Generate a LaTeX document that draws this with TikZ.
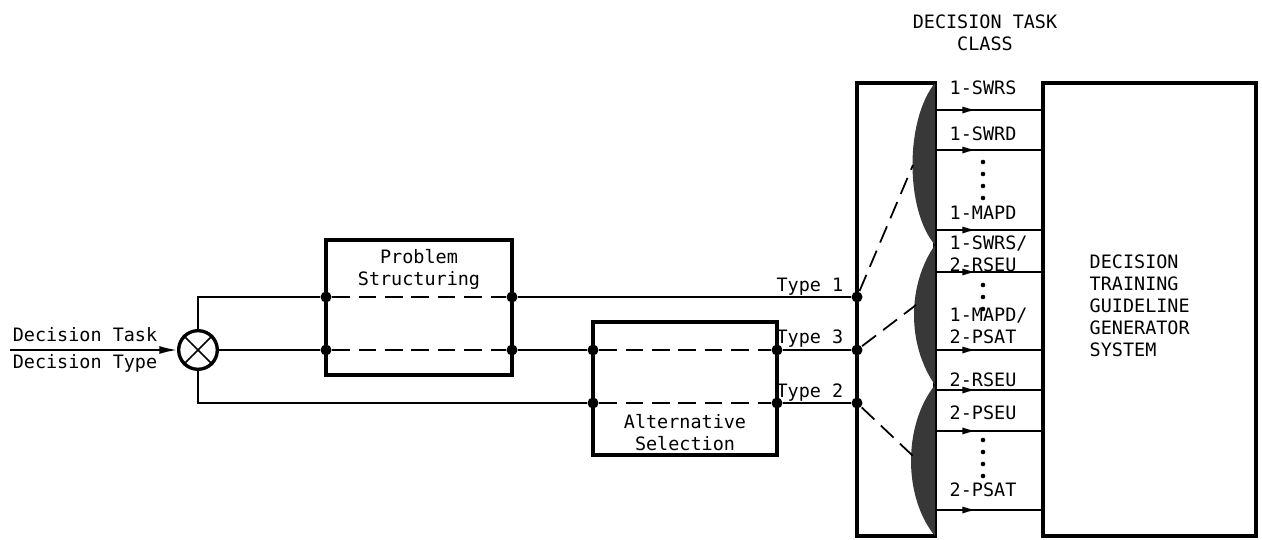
\documentclass[tikz,border=0pt]{standalone}
\usepackage{fontspec}
\setmainfont{DejaVu Sans Mono}
\usepackage{tikz}
\usetikzlibrary{positioning}
\usetikzlibrary{arrows.meta}
\usetikzlibrary{fit}
\usetikzlibrary{decorations.markings}
\usetikzlibrary{math}

\tikzset{
  box/.style={draw, line width=2.3pt, inner sep=0pt},
  junction/.style={circle, fill=black, inner sep=0pt, minimum size=6.3pt},
  flowdash/.style={dashed, dash pattern=on 10pt off 5pt},
  classline/.style={postaction={decorate},
    decoration={markings, mark=at position 0.38 with {\arrow{Latex[length=8pt,width=4pt]}}}},
}

\begin{document}
\begin{tikzpicture}[x=0.02cm, y=-0.02cm, line width=1pt,
    font=\fontsize{10.5}{12.5}\selectfont]
      \tikzmath{
        \yA = 297;
        \yB = 350;
        \yC = 403;
        \xL = 857;
        \xR = 935;
        \xG = 1043;
      }
      \useasboundingbox (0,0) rectangle (1262,540);

      % input and mixer
      \node[circle, draw, line width=1.9pt, minimum size=22pt, inner sep=0pt] (mix) at (198,\yB) {};
      \draw (mix.north west) -- (mix.south east);
      \draw (mix.north east) -- (mix.south west);
      \coordinate (in) at (10,\yB);
      \draw[-{Latex[length=10pt,width=4.5pt]}] (in) -- (mix);
      \node (task) at (85,335) {Decision Task};
      \node (type) at (85,363) {Decision Type};

      % the two function boxes
      \node[box, fit={(326,240) (512,375)}] (ps) {};
      \node[align=center] (psText) at (419,269) {Problem\\Structuring};
      \node[box, fit={(593,322) (777,455)}] (as) {};
      \node[align=center] (asText) at (685,433) {Alternative\\Selection};

      % class and generator boxes
      \node[box, fit={(\xL,83) (\xR,536)}] (cls) {};
      \node[box, fit={(\xG,83) (1256,536)}] (gen) {};
      \node[align=left, anchor=west] (genText) at (1083,306)
        {DECISION\\TRAINING\\GUIDELINE\\GENERATOR\\SYSTEM};
      \node[align=center] (title) at (985,33) {DECISION TASK\\CLASS};

      % lenses
      \fill[black!78] (\xR,83) .. controls (905,120) and (905,210) .. (\xR,245) -- cycle;
      \fill[black!78] (\xR,245) .. controls (907,285) and (907,345) .. (\xR,385) -- cycle;
      \fill[black!78] (\xR,385) .. controls (903,425) and (903,497) .. (\xR,536) -- cycle;
      \coordinate (lensA) at (913,165);
      \coordinate (lensB) at (916,305);
      \coordinate (lensC) at (913,456);

      % junctions
      \node[junction] (psA) at (326,\yA) {};
      \node[junction] (psA2) at (512,\yA) {};
      \node[junction] (psB) at (326,\yB) {};
      \node[junction] (psB2) at (512,\yB) {};
      \node[junction] (asB) at (593,\yB) {};
      \node[junction] (asB2) at (777,\yB) {};
      \node[junction] (asC) at (593,\yC) {};
      \node[junction] (asC2) at (777,\yC) {};
      \node[junction] (clA) at (\xL,\yA) {};
      \node[junction] (clB) at (\xL,\yB) {};
      \node[junction] (clC) at (\xL,\yC) {};

      % type 1
      \draw (mix.north) |- (psA);
      \draw[flowdash] (psA) -- (psA2);
      \draw (psA2) -- (clA);
      % type 3
      \draw (mix.east) -- (psB);
      \draw[flowdash] (psB) -- (psB2);
      \draw (psB2) -- (asB);
      \draw[flowdash] (asB) -- (asB2);
      \draw (asB2) -- (clB);
      % type 2
      \draw (mix.south) |- (asC);
      \draw[flowdash] (asC) -- (asC2);
      \draw (asC2) -- (clC);

      \node[anchor=base east] (t1) at (850,\yA-5) {Type 1};
      \node[anchor=base east] (t3) at (850,\yB-6) {Type 3};
      \node[anchor=base east] (t2) at (850,\yC-5) {Type 2};

      \draw[flowdash] (clA) -- (lensA);
      \draw[flowdash] (clB) -- (lensB);
      \draw[flowdash] (clC) -- (lensC);

      % class outputs
      \foreach \y in {110,150,230,272,350,390,431,510}
        \draw[classline] (cls.east |- 0,\y) -- (gen.west |- 0,\y);

      \node[anchor=west] at (943,88) {1-SWRS};
      \node[anchor=west] at (943,134) {1-SWRD};
      \node[anchor=west] at (943,213) {1-MAPD};
      \node[anchor=west, align=left] at (943,254) {1-SWRS/\\2-RSEU};
      \node[anchor=west, align=left] at (943,326) {1-MAPD/\\2-PSAT};
      \node[anchor=west] at (943,380) {2-RSEU};
      \node[anchor=west] at (943,413) {2-PSEU};
      \node[anchor=west] at (943,490) {2-PSAT};

      \foreach \y in {162,174,186,198,285,297,309,440,452,464,476}
        \fill (983,\y) circle (1.3pt);

    \end{tikzpicture}
\end{document}
